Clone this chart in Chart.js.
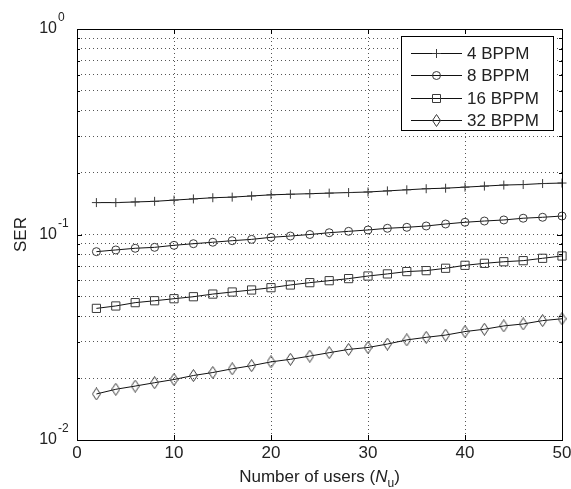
<!DOCTYPE html>
<html>
<head>
<meta charset="utf-8">
<script src="https://cdn.jsdelivr.net/npm/chart.js@4.4.0/dist/chart.umd.min.js"></script>
<style>
    html, body { margin: 0; padding: 0; background: #fff; }
    #wrap { width: 571px; height: 489px; }
</style>
</head>
<body>
<div id="wrap"><canvas id="serChart" width="571" height="489"></canvas></div>
<script>
// Values (SER vs number of users)
const users = [2, 4, 6, 8, 10, 12, 14, 16, 18, 20, 22, 24, 26, 28, 30, 32, 34, 36, 38, 40, 42, 44, 46, 48, 50];
const ser4 = [0.143, 0.143, 0.144, 0.145, 0.147, 0.149, 0.151, 0.152, 0.154, 0.156, 0.157, 0.158, 0.159,
              0.160, 0.161, 0.163, 0.165, 0.167, 0.168, 0.170, 0.172, 0.174, 0.175, 0.177, 0.178];
const ser8 = [0.0825, 0.0841, 0.0857, 0.0866, 0.0886, 0.0902, 0.0917, 0.0933, 0.0947, 0.0969, 0.0983, 0.1000, 0.102,
              0.1036, 0.1052, 0.1072, 0.1084, 0.110, 0.1125, 0.1147, 0.1163, 0.1177, 0.120, 0.1213, 0.123];
const ser16 = [0.0437, 0.0449, 0.0466, 0.0476, 0.0487, 0.0498, 0.0513, 0.0525, 0.0537, 0.0551, 0.0568, 0.0583, 0.0596,
               0.0610, 0.0628, 0.0643, 0.0660, 0.0667, 0.0685, 0.0708, 0.0724, 0.0737, 0.0746, 0.0766, 0.0786];
const ser32 = [0.01675, 0.01765, 0.0183, 0.0190, 0.0197, 0.0206, 0.0213, 0.0222, 0.0230, 0.0240, 0.0247, 0.0256, 0.0266,
               0.0276, 0.0282, 0.0293, 0.0307, 0.0316, 0.0324, 0.0337, 0.0346, 0.0359, 0.0367, 0.0381, 0.0389];
const seriesLabels = ['4 BPPM', '8 BPPM', '16 BPPM', '32 BPPM'];

// Axis ticks
const xTicks = [0, 10, 20, 30, 40, 50];
const yDecades = [-2, -1, 0];

const FONT = '"Liberation Sans", Arial, sans-serif';
const LINE_COLOR = '#111';
const MARK_COLOR = '#3a3a3a';

// minor/major ticks of the log axis: 1..9 x 10^e
const yTickValues = [];
yDecades.forEach((e, i) => {
    if (i === yDecades.length - 1) { yTickValues.push(Math.pow(10, e)); return; }
    for (let m = 1; m <= 9; m++) yTickValues.push(m * Math.pow(10, e));
});

// MATLAB style diamond is taller than wide
function makeDiamond(w, h) {
    const c = document.createElement('canvas');
    c.width = w; c.height = h;
    const g = c.getContext('2d');
    g.strokeStyle = MARK_COLOR;
    g.lineWidth = 1;
    g.beginPath();
    g.moveTo(w / 2, 0.5);
    g.lineTo(w - 0.5, h / 2);
    g.lineTo(w / 2, h - 0.5);
    g.lineTo(0.5, h / 2);
    g.closePath();
    g.stroke();
    return c;
}
const diamond = makeDiamond(9, 13);

const markerStyles = ['cross', 'circle', 'rect', diamond];
const markerRadius = [4.5, 4, 5.8, 6];

function toPoints(vals) {
    return users.map((u, i) => ({ x: u, y: vals[i] }));
}

const datasets = [ser4, ser8, ser16, ser32].map((vals, i) => ({
    label: seriesLabels[i],
    data: toPoints(vals),
    borderColor: LINE_COLOR,
    borderWidth: 1,
    pointStyle: markerStyles[i],
    pointRadius: markerRadius[i],
    pointBorderColor: MARK_COLOR,
    pointBackgroundColor: 'rgba(0,0,0,0)',
    pointBorderWidth: 1,
    tension: 0,
    clip: false
}));

function drawLegendMarker(ctx, i, cx, cy) {
    ctx.save();
    ctx.strokeStyle = MARK_COLOR;
    ctx.lineWidth = 1;
    ctx.beginPath();
    if (i === 0) {
        ctx.moveTo(cx - 4.5, cy); ctx.lineTo(cx + 4.5, cy);
        ctx.moveTo(cx, cy - 4.5); ctx.lineTo(cx, cy + 4.5);
        ctx.stroke();
    } else if (i === 1) {
        ctx.arc(cx, cy, 4, 0, Math.PI * 2);
        ctx.stroke();
    } else if (i === 2) {
        ctx.rect(cx - 4, cy - 4, 8, 8);
        ctx.stroke();
    } else {
        ctx.drawImage(diamond, cx - diamond.width / 2, cy - diamond.height / 2);
    }
    ctx.restore();
}

const matlabAxes = {
    id: 'matlabAxes',
    afterDraw(chart) {
        const { ctx, chartArea: a, scales: { x, y } } = chart;
        ctx.save();
        ctx.setLineDash([]);
        ctx.strokeStyle = '#000';
        ctx.lineWidth = 1;

        // inward tick marks
        ctx.beginPath();
        xTicks.forEach(v => {
            const px = Math.round(x.getPixelForValue(v)) + 0.5;
            ctx.moveTo(px, a.bottom); ctx.lineTo(px, a.bottom - 5);
            ctx.moveTo(px, a.top); ctx.lineTo(px, a.top + 5);
        });
        yTickValues.forEach(v => {
            const py = Math.round(y.getPixelForValue(v)) + 0.5;
            const major = Math.abs(Math.log10(v) - Math.round(Math.log10(v))) < 1e-9;
            const len = major ? 5 : 3;
            ctx.moveTo(a.left, py); ctx.lineTo(a.left + len, py);
            ctx.moveTo(a.right, py); ctx.lineTo(a.right - len, py);
        });
        ctx.stroke();

        // frame
        ctx.strokeRect(Math.round(a.left) + 0.5, Math.round(a.top) + 0.5,
            Math.round(a.right - a.left), Math.round(a.bottom - a.top));

        // x tick labels
        ctx.fillStyle = '#222';
        ctx.font = '17px ' + FONT;
        ctx.textAlign = 'center';
        ctx.textBaseline = 'middle';
        xTicks.forEach(v => ctx.fillText(String(v), x.getPixelForValue(v), a.bottom + 13));

        // y tick labels 10^e
        yDecades.forEach(e => {
            const py = y.getPixelForValue(Math.pow(10, e));
            ctx.font = '16px ' + FONT;
            ctx.textAlign = 'right';
            ctx.textBaseline = 'middle';
            ctx.fillText('10', a.left - 20, py);
            ctx.font = '12px ' + FONT;
            ctx.textAlign = 'left';
            ctx.fillText(String(e), a.left - 19, py - 11);
        });

        // x axis title with italic N and subscript u
        const cx = (a.left + a.right) / 2;
        const base = a.bottom + 42;
        ctx.textBaseline = 'alphabetic';
        ctx.textAlign = 'left';
        const p1 = 'Number of users (', p2 = 'N', p3 = 'u', p4 = ')';
        ctx.font = '17px ' + FONT;
        const w1 = ctx.measureText(p1).width;
        const w4 = ctx.measureText(p4).width;
        ctx.font = 'italic 17px ' + FONT;
        const w2 = ctx.measureText(p2).width;
        ctx.font = '12px ' + FONT;
        const w3 = ctx.measureText(p3).width;
        let tx = cx - (w1 + w2 + w3 + w4) / 2;
        ctx.font = '17px ' + FONT;
        ctx.fillText(p1, tx, base); tx += w1;
        ctx.font = 'italic 17px ' + FONT;
        ctx.fillText(p2, tx, base); tx += w2;
        ctx.font = '12px ' + FONT;
        ctx.fillText(p3, tx, base + 5); tx += w3;
        ctx.font = '17px ' + FONT;
        ctx.fillText(p4, tx, base);

        // y axis title
        ctx.save();
        ctx.translate(21, (a.top + a.bottom) / 2);
        ctx.rotate(-Math.PI / 2);
        ctx.textAlign = 'center';
        ctx.textBaseline = 'middle';
        ctx.font = '17px ' + FONT;
        ctx.fillText('SER', 0, 0);
        ctx.restore();

        // legend box
        const lx = 401.5, ly = 36.5, lw = 152, lh = 94;
        ctx.fillStyle = '#fff';
        ctx.fillRect(lx, ly, lw, lh);
        ctx.strokeStyle = '#000';
        ctx.strokeRect(lx, ly, lw, lh);
        chart.data.datasets.forEach((ds, i) => {
            const ry = Math.round(53 + i * 22.3) + 0.5;
            ctx.strokeStyle = LINE_COLOR;
            ctx.beginPath();
            ctx.moveTo(411, ry); ctx.lineTo(462, ry);
            ctx.stroke();
            drawLegendMarker(ctx, i, 436.5, ry);
            ctx.fillStyle = '#222';
            ctx.font = '17px ' + FONT;
            ctx.textAlign = 'left';
            ctx.textBaseline = 'middle';
            ctx.fillText(ds.label, 467, ry + 1);
        });
        ctx.restore();
    }
};

new Chart(document.getElementById('serChart'), {
    type: 'line',
    data: { datasets: datasets },
    options: {
        responsive: false,
        animation: false,
        devicePixelRatio: 1,
        layout: { padding: { left: 77, right: 9, top: 29, bottom: 49 } },
        plugins: { legend: { display: false }, tooltip: { enabled: false } },
        scales: {
            x: {
                type: 'linear',
                min: 0,
                max: 50,
                afterBuildTicks: axis => { axis.ticks = xTicks.map(v => ({ value: v })); },
                ticks: { display: false },
                grid: { color: '#555', lineWidth: 1, drawTicks: false },
                border: { display: false, dash: [1, 3] }
            },
            y: {
                type: 'logarithmic',
                min: 0.01,
                max: 1,
                afterBuildTicks: axis => { axis.ticks = yTickValues.map(v => ({ value: v })); },
                ticks: { display: false },
                grid: { color: '#555', lineWidth: 1, drawTicks: false },
                border: { display: false, dash: [1, 3] }
            }
        }
    },
    plugins: [matlabAxes]
});
</script>
</body>
</html>
